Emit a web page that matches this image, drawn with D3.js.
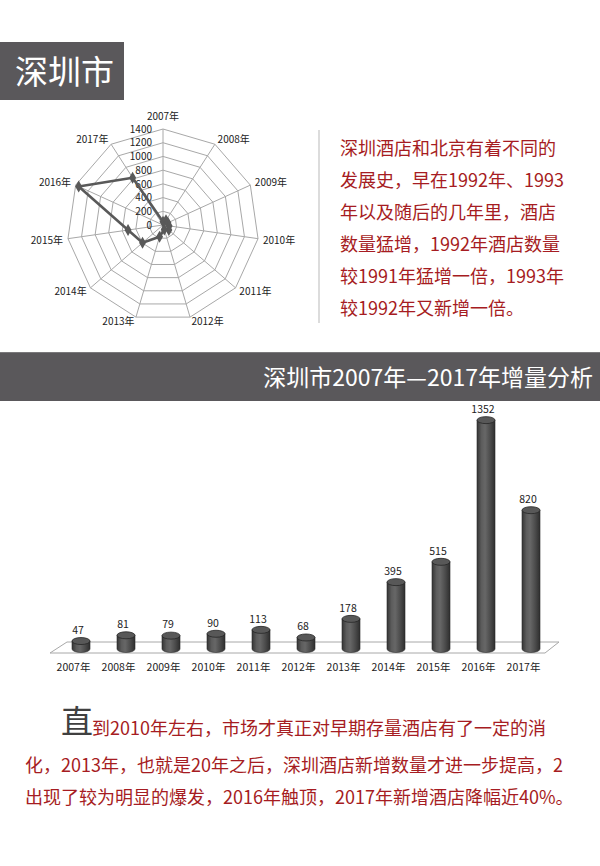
<!DOCTYPE html>
<html><head><meta charset="utf-8">
<script src="https://cdn.jsdelivr.net/npm/d3@7"></script>
<style>
html,body{margin:0;padding:0;background:#fff;}
svg{display:block;font-family:"Noto Sans CJK SC","Noto Sans",sans-serif;}
</style></head>
<body>
<svg id="c" width="600" height="866"></svg>
<script>
const years = ['2007年','2008年','2009年','2010年','2011年','2012年','2013年','2014年','2015年','2016年','2017年'];
const values = [47,81,79,90,113,68,178,395,515,1352,820];
const radarTicks = [0,200,400,600,800,1000,1200,1400];
const title = '深圳市';
const bannerTitle = '深圳市2007年—2017年增量分析';
const paraLines = ['深圳酒店和北京有着不同的','发展史，早在1992年、1993','年以及随后的几年里，酒店','数量猛增，1992年酒店数量','较1991年猛增一倍，1993年','较1992年又新增一倍。'];
const bottomFirst = '直';
const bottomLines = ['到2010年左右，市场才真正对早期存量酒店有了一定的消','化，2013年，也就是20年之后，深圳酒店新增数量才进一步提高，2','出现了较为明显的爆发，2016年触顶，2017年新增酒店降幅近40%。'];

const RED = '#a61c22', BANNER = '#5a585b';
const svg = d3.select('#c');

// header
svg.append('rect').attr('x',0).attr('y',42).attr('width',124).attr('height',58).attr('fill',BANNER);
svg.append('text').attr('x',15).attr('y',84).attr('fill','#fff').attr('font-size',33).text(title);

// radar
const cx = 163, cy = 225, n = years.length;
const r = d3.scaleLinear().domain([0,1400]).range([0,96]);
const ang = i => i*2*Math.PI/n;
const pt = (i,v) => [cx + r(v)*Math.sin(ang(i)), cy - r(v)*Math.cos(ang(i))];
const rg = svg.append('g');
radarTicks.slice(1).forEach(t=>{
  rg.append('path').attr('d', d3.line()(years.map((_,i)=>pt(i,t))) + 'Z')
    .attr('fill','none').attr('stroke','#a8a8a8').attr('stroke-width',1);
});
years.forEach((_,i)=>{
  const p = pt(i,1400);
  rg.append('line').attr('x1',cx).attr('y1',cy).attr('x2',p[0]).attr('y2',p[1])
    .attr('stroke','#a8a8a8').attr('stroke-width',1);
});
radarTicks.forEach(t=>{
  rg.append('text').attr('x',152).attr('y',cy - r(t)+1).attr('text-anchor','end')
    .attr('dominant-baseline','middle').attr('font-size',10).attr('fill','#222').text(t);
});
years.forEach((y,i)=>{
  const s = Math.sin(ang(i)), c = Math.cos(ang(i));
  let x, yy, anchor;
  if (i===0){ x = cx; yy = cy - 108; anchor='middle'; }
  else { x = cx + 101*s; yy = cy - 99*c + (c<0?2:-1); anchor = s>0?'start':'end'; }
  rg.append('text').attr('x',x).attr('y',yy).attr('text-anchor',anchor)
    .attr('dominant-baseline','middle').attr('font-size',10).attr('fill','#222').text(y);
});
rg.append('path').attr('d', d3.line()(values.map((v,i)=>pt(i,v))) + 'Z')
  .attr('fill','none').attr('stroke','#595959').attr('stroke-width',2.6).attr('stroke-linejoin','round');
values.forEach((v,i)=>{
  const p = pt(i,v);
  rg.append('path').attr('d', d3.symbol(d3.symbolDiamond, 42)())
    .attr('transform',`translate(${p[0]},${p[1]})`).attr('fill','#595959');
});

// paragraph
svg.append('line').attr('x1',319).attr('x2',319).attr('y1',130).attr('y2',323)
  .attr('stroke','#d0d0d0').attr('stroke-width',1.5);
paraLines.forEach((l,i)=>{
  svg.append('text').attr('x',340).attr('y',155+i*32).attr('font-size',18).attr('fill',RED).text(l);
});

// banner
svg.append('rect').attr('x',0).attr('y',352).attr('width',600).attr('height',49).attr('fill',BANNER);
svg.append('line').attr('x1',0).attr('x2',600).attr('y1',352.5).attr('y2',352.5).attr('stroke','#7a797b').attr('stroke-width',1);
svg.append('text').attr('x',593).attr('y',386).attr('text-anchor','end').attr('font-size',23)
  .attr('fill','#fff').text(bannerTitle);

// bar chart (cylinders)
const defs = svg.append('defs');
const grad = defs.append('linearGradient').attr('id','cyl').attr('x1',0).attr('x2',1).attr('y1',0).attr('y2',0);
[[0,'#353535'],[0.25,'#5c5c5c'],[0.45,'#676767'],[0.75,'#4a4a4a'],[1,'#2e2e2e']].forEach(s=>
  grad.append('stop').attr('offset',s[0]).attr('stop-color',s[1]));
const x = d3.scaleBand().domain(years).range([58.5,553.5]).paddingInner(0.6).paddingOuter(0.3);
const y = d3.scaleLinear().domain([0,1400]).range([649,412]);
const bg = svg.append('g');
bg.append('path').attr('d','M50,653 L545,653 L559,642 L67,642 Z')
  .attr('fill','none').attr('stroke','#a8a8a8').attr('stroke-width',1);
const ry = 3.5;
years.forEach((yr,i)=>{
  const x0 = x(yr), w = x.bandwidth(), rx = w/2, xc = x0+rx;
  const top = y(values[i]), bot = y(0);
  bg.append('path')
    .attr('d',`M${x0},${top} L${x0},${bot} A${rx},${ry} 0 0 0 ${x0+w},${bot} L${x0+w},${top} Z`)
    .attr('fill','url(#cyl)').attr('stroke','#2a2a2a').attr('stroke-width',0.6);
  bg.append('ellipse').attr('cx',xc).attr('cy',top).attr('rx',rx).attr('ry',ry)
    .attr('fill','#585858').attr('stroke','#262626').attr('stroke-width',0.8);
  bg.append('text').attr('x',xc-3).attr('y',top-10).attr('text-anchor','middle')
    .attr('dominant-baseline','middle').attr('font-size',10.5).attr('fill','#222').text(values[i]);
  bg.append('text').attr('x',xc-7.5).attr('y',668).attr('text-anchor','middle')
    .attr('dominant-baseline','middle').attr('font-size',10.5).attr('fill','#222').text(yr);
});

// bottom text
svg.append('text').attr('x',61).attr('y',733).attr('font-size',32).attr('fill','#404040').text(bottomFirst);
svg.append('text').attr('x',92).attr('y',735).attr('font-size',18).attr('fill',RED).text(bottomLines[0]);
svg.append('text').attr('x',25).attr('y',772).attr('font-size',18).attr('fill',RED).text(bottomLines[1]);
svg.append('text').attr('x',25).attr('y',804).attr('font-size',18).attr('fill',RED).text(bottomLines[2]);
</script>
</body></html>
